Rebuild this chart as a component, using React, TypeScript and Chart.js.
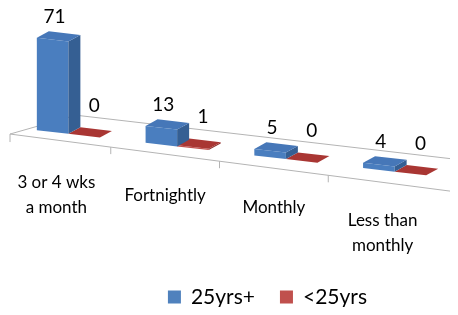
import React, { useEffect, useRef } from "react";
import { Chart, registerables } from "chart.js";

Chart.register(...registerables);

// ---- data ----
const categories: string[][] = [["3 or 4 wks", "a month"], ["Fortnightly"], ["Monthly"], ["Less than", "monthly"]];
const seriesNames = ["25yrs+", "<25yrs"];
const values25plus = [71, 13, 5, 4];
const valuesUnder25 = [0, 1, 0, 0];

// ---- style ----
const FONT = "Lato, 'Open Sans', sans-serif";
const SHEAR = 0.116;
const DEPTH_X = 12;
const DEPTH_Y = -8;
const frontColors = ["#4A7EBF", "#C0504D"];
const sideColors = ["#355F93", "#8E2F2D"];
const topColors = ["#4677B8", "#A93633"];
const legendColors = ["#4F81BD", "#C0504D"];
const labelOffsets = [
  { dx: 2, dy: -23 },
  { dx: 10, dy: -30 },
];

function geom(chart: any) {
  const yScale = chart.scales.y;
  const px = chart.getDatasetMeta(0).data[0].x;
  const zeroY = yScale.getPixelForValue(0);
  const shear = (x: number, y: number) => y + SHEAR * (x - px);
  return { px, zeroY, shear };
}

const perspective = {
  id: "perspective",
  beforeDatasetsDraw(chart: any) {
    const ctx = chart.ctx as CanvasRenderingContext2D;
    const { px, zeroY, shear } = geom(chart);
    const W = chart.width;
    // floor
    const leftX = 2;
    const frontL = shear(leftX, zeroY) + 7;
    const frontR = shear(W, zeroY) + 13;
    const frontAt = (x: number) => frontL + ((frontR - frontL) * (x - leftX)) / (W - leftX);
    const backLX = leftX + 66;
    const backAt = (x: number) => shear(x, zeroY) - 19.5;
    ctx.save();
    ctx.strokeStyle = "#B4B4B4";
    ctx.lineWidth = 1;
    ctx.beginPath();
    ctx.moveTo(leftX, frontL);
    ctx.lineTo(W, frontR);
    ctx.moveTo(leftX, frontL);
    ctx.lineTo(backLX, backAt(backLX));
    ctx.lineTo(W, backAt(W));
    ctx.stroke();
    // ticks
    const xs = chart.scales.x;
    const area = chart.chartArea;
    const catW = (area.right - area.left) / categories.length;
    ctx.beginPath();
    ctx.moveTo(leftX, frontL);
    ctx.lineTo(leftX, frontL + 8);
    for (let i = 1; i < categories.length; i++) {
      const tx = xs.getPixelForValue(i) - catW / 2 - 12;
      ctx.moveTo(tx, frontAt(tx));
      ctx.lineTo(tx, frontAt(tx) + 7);
    }
    ctx.stroke();
    ctx.restore();

    ctx.save();
    ctx.transform(1, SHEAR, 0, 1, 0, -SHEAR * px);
  },
  afterDatasetsDraw(chart: any) {
    const ctx = chart.ctx as CanvasRenderingContext2D;
    const { shear } = geom(chart);
    for (const di of [1, 0]) {
      const meta = chart.getDatasetMeta(di);
      meta.data.forEach((el: any) => {
        const { x, y, base, width } = el.getProps(["x", "y", "base", "width"], true);
        const x0 = x - width / 2;
        const x1 = x + width / 2;
        if (base - y > 0.5) {
          ctx.fillStyle = sideColors[di];
          ctx.beginPath();
          ctx.moveTo(x1, y);
          ctx.lineTo(x1 + DEPTH_X, y + DEPTH_Y);
          ctx.lineTo(x1 + DEPTH_X, base + DEPTH_Y);
          ctx.lineTo(x1, base);
          ctx.closePath();
          ctx.fill();
        }
        ctx.fillStyle = topColors[di];
        ctx.beginPath();
        ctx.moveTo(x0, y);
        ctx.lineTo(x1, y);
        ctx.lineTo(x1 + DEPTH_X, y + DEPTH_Y);
        ctx.lineTo(x0 + DEPTH_X, y + DEPTH_Y);
        ctx.closePath();
        ctx.fill();
      });
    }
    ctx.restore();

    // value labels
    ctx.save();
    ctx.fillStyle = "#000";
    ctx.font = `19px ${FONT}`;
    ctx.textAlign = "center";
    ctx.textBaseline = "middle";
    for (const di of [0, 1]) {
      const meta = chart.getDatasetMeta(di);
      const vals = chart.data.datasets[di].data;
      meta.data.forEach((el: any, i: number) => {
        const { x, y } = el.getProps(["x", "y"], true);
        const o = labelOffsets[di];
        ctx.fillText(String(vals[i]), x + o.dx, shear(x, y) + o.dy);
      });
    }
    ctx.restore();
  },
  afterDraw(chart: any) {
    const ctx = chart.ctx as CanvasRenderingContext2D;
    const { zeroY, shear } = geom(chart);
    const xs = chart.scales.x;
    ctx.save();
    ctx.fillStyle = "#000";
    ctx.font = `17px ${FONT}`;
    ctx.textAlign = "center";
    ctx.textBaseline = "middle";
    categories.forEach((lines, i) => {
      const cx = xs.getPixelForValue(i) - 12;
      const y0 = shear(cx, zeroY) + 50;
      lines.forEach((ln, j) => ctx.fillText(ln, cx, y0 + j * 25));
    });
    // legend
    ctx.font = `21px ${FONT}`;
    ctx.textAlign = "left";
    const box = 13;
    const gapBox = 10;
    const gapItem = 25;
    const widths = seriesNames.map((n) => box + gapBox + ctx.measureText(n).width);
    const total = widths.reduce((a, b) => a + b, 0) + gapItem * (seriesNames.length - 1);
    let lx = chart.width * 0.587 - total / 2;
    const ly = chart.height - 4;
    seriesNames.forEach((n, i) => {
      ctx.fillStyle = legendColors[i];
      ctx.fillRect(lx, ly - box / 2 - 6, box, box);
      ctx.fillStyle = "#000";
      ctx.fillText(n, lx + box + gapBox, ly - 6);
      lx += widths[i] + gapItem;
    });
    ctx.restore();
  },
};

export default function App() {
  const ref = useRef<HTMLCanvasElement>(null);
  useEffect(() => {
    const chart = new Chart(ref.current as HTMLCanvasElement, {
      type: "bar",
      data: {
        labels: categories.map((c) => c.join(" ")),
        datasets: [
          { label: seriesNames[0], data: values25plus, backgroundColor: frontColors[0], clip: false as any },
          { label: seriesNames[1], data: valuesUnder25, backgroundColor: frontColors[1], clip: false as any },
        ],
      },
      options: {
        animation: false,
        responsive: true,
        maintainAspectRatio: false,
        layout: { padding: { top: 20, bottom: 175, left: 6, right: 1 } },
        datasets: { bar: { categoryPercentage: 0.58, barPercentage: 1 } },
        scales: {
          x: { display: false },
          y: { display: false, min: 0, max: 80 },
        },
        plugins: { legend: { display: false }, tooltip: { enabled: false } },
      },
      plugins: [perspective as any],
    });
    return () => chart.destroy();
  }, []);
  return (
    <div style={{ width: 442, height: 299 }}>
      <canvas ref={ref} />
    </div>
  );
}
